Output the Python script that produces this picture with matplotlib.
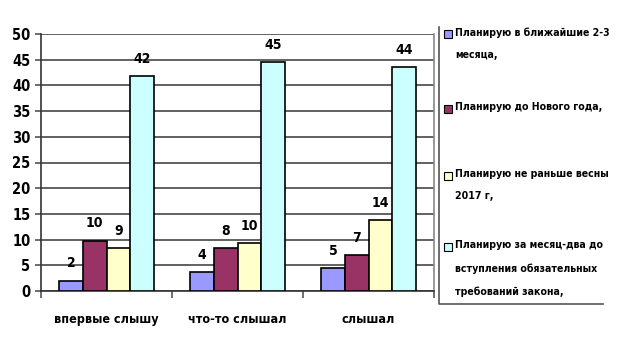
import numpy as np
import matplotlib.pyplot as plt
from matplotlib.patches import Rectangle
from matplotlib.lines import Line2D

plt.rcParams['font.family'] = ['DejaVu Sans']
plt.rcParams['font.stretch'] = 'condensed'
plt.rcParams['font.weight'] = 'bold'

categories = ["впервые слышу", "что-то слышал", "слышал"]
series_names = ["Планирую в ближайшие 2-3\nмесяца,",
                "Планирую до Нового года,",
                "Планирую не раньше весны\n2017 г,",
                "Планирую за месяц-два до\nвступления обязательных\nтребований закона,"]
# bar heights and their printed labels
values = [[2.0, 3.6, 4.4],
          [9.8, 8.3, 7.0],
          [8.3, 9.3, 13.8],
          [41.8, 44.5, 43.6]]
labels = [[2, 4, 5],
          [10, 8, 7],
          [9, 10, 14],
          [42, 45, 44]]
colors = ["#9999FF", "#993366", "#FFFFCC", "#CCFFFF"]

fig = plt.figure(figsize=(6.19, 3.52), dpi=100)
ax = fig.add_axes([41/619, 1-291/352, (434-41)/619, (291-34)/352])

x = np.arange(len(categories))
w = 0.181
for i in range(4):
    pos = x + (i - 1.5) * w
    ax.bar(pos, values[i], w, color=colors[i], edgecolor='black', linewidth=1.2, zorder=3)
    for p, v, l in zip(pos, values[i], labels[i]):
        ax.text(p, v + 2.0, str(l), ha='center', va='bottom', fontsize=10, fontweight='bold')

ax.set_xlim(-0.5, 2.5)
ax.set_ylim(0, 50)
ax.set_yticks(range(0, 51, 5))
ax.yaxis.grid(True, color='#555555', linewidth=1.3, zorder=0)
ax.set_xticks(x)
ax.set_xticklabels(categories, fontsize=9, fontweight='bold')
ax.set_xticks([-0.5, 0.5, 1.5, 2.5], minor=True)
ax.tick_params(axis='x', which='major', length=0, pad=16)
ax.tick_params(axis='x', which='minor', length=5, color='#555555', width=1.2)
ax.tick_params(axis='y', length=4, width=1.2, color='#555555', labelsize=10.5)
for t in ax.get_yticklabels():
    t.set_fontweight('bold')

ax.spines['top'].set_visible(False)
ax.spines['left'].set_color('#333333')
ax.spines['left'].set_linewidth(1.2)
ax.spines['bottom'].set_color('#333333')
ax.spines['bottom'].set_linewidth(1.2)
ax.spines['right'].set_color('#888888')
ax.spines['right'].set_linewidth(1.2)

# legend drawn by hand: only left and bottom border visible
fig.add_artist(Line2D([439/619, 439/619, 603/619], [1-27/352, 1-304/352, 1-304/352],
                      color='#555555', linewidth=1.2))
legend_tops = [27, 102, 169, 240]
for name, col, top in zip(series_names, colors, legend_tops):
    fig.add_artist(Rectangle((444/619, 1-(top+11)/352), 8/619, 8/352,
                             facecolor=col, edgecolor='black', linewidth=0.8))
    fig.text(455/619, 1-top/352, name, ha='left', va='top', fontsize=7.6,
             fontweight='bold', linespacing=2.55)

fig.savefig("out.png", dpi=100)
